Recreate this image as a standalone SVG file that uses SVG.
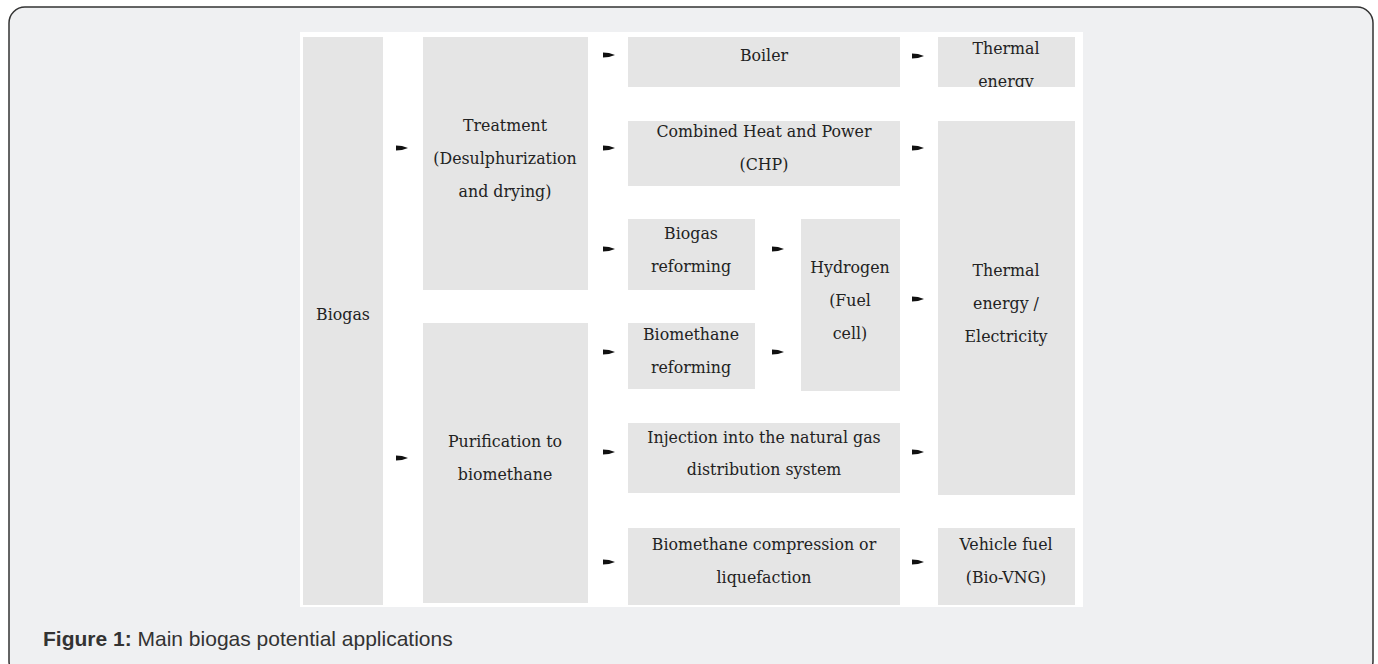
<svg xmlns="http://www.w3.org/2000/svg" width="1378" height="664" viewBox="0 0 1378 664">
<defs>
<style>
.box{fill:#e5e5e5;}
.t{font-family:"DejaVu Serif","Liberation Serif",serif;font-size:15.8px;fill:#222;text-anchor:middle;}
.cap{font-family:"Liberation Sans",Arial,sans-serif;font-size:21px;fill:#333;}
.arr{fill:#111;}
</style>
<path id="ar" d="M0,-2.6 L6,-2 L12,0 L6,2 L0,2.6 Z"/>
<clipPath id="clipTE"><rect x="938" y="37" width="137" height="50"/></clipPath>
</defs>
<rect x="9" y="7" width="1364" height="670" rx="16" ry="16" fill="#eff0f2" stroke="#333" stroke-width="1.5"/>
<rect x="300" y="32" width="783" height="575" fill="#ffffff"/>

<g id="biogas"><rect class="box" x="303" y="37" width="80" height="568"/><text class="t" x="343" y="320">Biogas</text></g>
<g id="treatment"><rect class="box" x="423" y="37" width="165" height="253"/>
<text class="t" x="505" y="131">Treatment</text><text class="t" x="505" y="164">(Desulphurization</text><text class="t" x="505" y="197">and drying)</text></g>
<g id="purification"><rect class="box" x="423" y="323" width="165" height="280"/>
<text class="t" x="505" y="447">Purification to</text><text class="t" x="505" y="480">biomethane</text></g>
<g id="boiler"><rect class="box" x="628" y="37" width="272" height="50"/><text class="t" x="764" y="61">Boiler</text></g>
<g id="thermal"><rect class="box" x="938" y="37" width="137" height="50"/>
<g clip-path="url(#clipTE)"><text class="t" x="1006" y="54">Thermal</text><text class="t" x="1006" y="87">energy</text></g></g>
<g id="chp"><rect class="box" x="628" y="121" width="272" height="65"/>
<text class="t" x="764" y="137">Combined Heat and Power</text><text class="t" x="764" y="170">(CHP)</text></g>
<g id="biogas-reforming"><rect class="box" x="628" y="219" width="127" height="71"/>
<text class="t" x="691" y="239">Biogas</text><text class="t" x="691" y="272">reforming</text></g>
<g id="biomethane-reforming"><rect class="box" x="628" y="323" width="127" height="66"/>
<text class="t" x="691" y="340">Biomethane</text><text class="t" x="691" y="373">reforming</text></g>
<g id="hydrogen"><rect class="box" x="801" y="219" width="99" height="172"/>
<text class="t" x="850" y="273">Hydrogen</text><text class="t" x="850" y="306">(Fuel</text><text class="t" x="850" y="339">cell)</text></g>
<g id="thermal-electricity"><rect class="box" x="938" y="121" width="137" height="374"/>
<text class="t" x="1006" y="276">Thermal</text><text class="t" x="1006" y="309">energy /</text><text class="t" x="1006" y="342">Electricity</text></g>
<g id="injection"><rect class="box" x="628" y="423" width="272" height="70"/>
<text class="t" x="764" y="443">Injection into the natural gas</text><text class="t" x="764" y="475">distribution system</text></g>
<g id="compression"><rect class="box" x="628" y="528" width="272" height="77"/>
<text class="t" x="764" y="550">Biomethane compression or</text><text class="t" x="764" y="583">liquefaction</text></g>
<g id="vehicle"><rect class="box" x="938" y="528" width="137" height="77"/>
<text class="t" x="1006" y="550">Vehicle fuel</text><text class="t" x="1006" y="583">(Bio-VNG)</text></g>

<g id="connectors" class="arr">
<use href="#ar" x="396" y="148"/>
<use href="#ar" x="396" y="458"/>
<use href="#ar" x="603" y="55"/>
<use href="#ar" x="603" y="148"/>
<use href="#ar" x="603" y="249"/>
<use href="#ar" x="603" y="352"/>
<use href="#ar" x="603" y="452"/>
<use href="#ar" x="603" y="562"/>
<use href="#ar" x="772" y="249"/>
<use href="#ar" x="772" y="352"/>
<use href="#ar" x="912" y="56"/>
<use href="#ar" x="912" y="148"/>
<use href="#ar" x="912" y="299"/>
<use href="#ar" x="912" y="452"/>
<use href="#ar" x="912" y="562"/>
</g>

<text class="cap" x="43" y="646"><tspan font-weight="bold">Figure 1:</tspan> Main biogas potential applications</text>
</svg>
